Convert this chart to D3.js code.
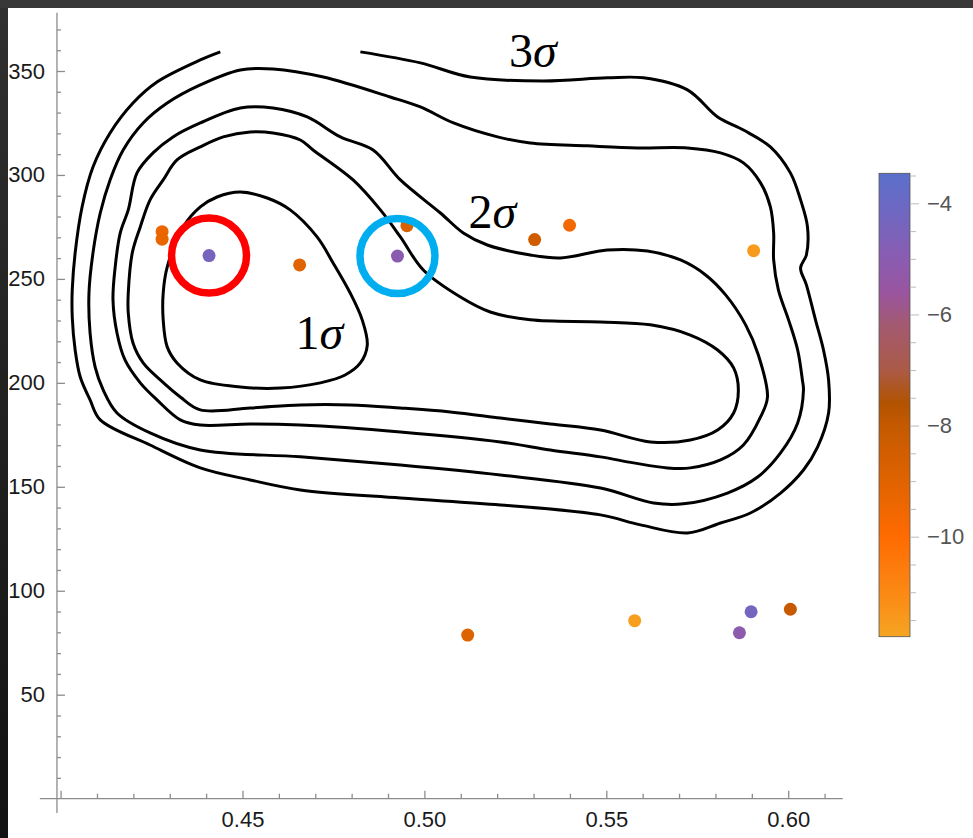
<!DOCTYPE html>
<html><head><meta charset="utf-8">
<script src="https://cdn.jsdelivr.net/npm/d3@7"></script>
<style>html,body{margin:0;padding:0;background:#fff;}svg{display:block;}</style>
</head><body>
<svg id="chart" width="973" height="838"></svg>
<script>
// ---------- data ----------
const xMajorTicks = [0.40, 0.45, 0.50, 0.55, 0.60];
const xTickLabels = ["", "0.45", "0.50", "0.55", "0.60"];
const xMinorTicks = [0.41,0.42,0.43,0.44,0.46,0.47,0.48,0.49,0.51,0.52,0.53,0.54,0.56,0.57,0.58,0.59,0.61];
const yMajorTicks = [50, 100, 150, 200, 250, 300, 350];
const yTickLabels = ["50", "100", "150", "200", "250", "300", "350"];
const yMinorTicks = [10,20,30,40,60,70,80,90,110,120,130,140,160,170,180,190,210,220,230,240,260,270,280,290,310,320,330,340,360,370];

const pointX = [0.4279, 0.4279, 0.4408, 0.4657, 0.4926, 0.4952, 0.5303, 0.5399, 0.5905, 0.5119, 0.5578, 0.5898, 0.5866, 0.6006];
const pointY = [272.7, 269.1, 261.2, 256.7, 261.0, 275.6, 268.9, 275.8, 263.6, 78.7, 85.6, 89.9, 79.8, 91.1];
const pointValue = [-9.4, -9.3, -4.4, -9.0, -5.0, -8.8, -8.4, -9.6, -11.5, -8.9, -11.6, -4.3, -5.1, -8.1];

const highlightX = [0.4408, 0.4926];
const highlightY = [261.2, 261.0];
const highlightColor = ["#ff0000", "#00aeef"];

const colorStops = [-11.8, -11.2, -10.5, -10.0, -9.0, -8.0, -7.6, -7.0, -6.2, -5.6, -5.0, -4.0, -3.46];
const colorRange = ["#f5a523", "#fa8f17", "#fd7a0c", "#ff6b00", "#e06300", "#c45900", "#b25300", "#ab5a47", "#a35a70", "#9955a0", "#8a5cb0", "#6a69c4", "#5a70cb"];
const cbMajorTicks = [-4, -6, -8, -10];
const cbTickLabels = ["\u22124", "\u22126", "\u22128", "\u221210"];
const cbMinorTicks = [-3.5,-4.5,-5,-5.5,-6.5,-7,-7.5,-8.5,-9,-9.5,-10.5,-11,-11.5];

const contour1 = [[0.4494,291.8],[0.4568,288.9],[0.4631,283.2],[0.4705,270.2],[0.4749,257.7],[0.4796,243.2],[0.4829,230.3],[0.4843,218.2],[0.4824,209.6],[0.4782,203.8],[0.4714,200.0],[0.4604,197.5],[0.4494,198.0],[0.4384,201.4],[0.4320,209.6],[0.4293,217.3],[0.4282,230.3],[0.4282,243.2],[0.4293,255.7],[0.4337,275.0],[0.4384,284.6],[0.4430,289.4]];
const contour2 = [[0.4384,313.5],[0.4447,318.3],[0.4521,320.7],[0.4584,320.2],[0.4659,316.8],[0.4694,312.0],[0.4804,297.6],[0.4879,283.2],[0.4934,270.2],[0.4997,254.3],[0.5099,241.3],[0.5181,234.1],[0.5291,230.3],[0.5484,229.3],[0.5621,227.9],[0.5731,223.0],[0.5806,215.8],[0.5850,207.2],[0.5863,196.6],[0.5850,185.5],[0.5806,177.3],[0.5731,172.5],[0.5621,171.6],[0.5484,177.3],[0.5346,180.2],[0.5209,183.1],[0.5071,186.0],[0.4934,187.9],[0.4796,189.4],[0.4659,189.4],[0.4521,187.9],[0.4384,187.0],[0.4329,193.2],[0.4274,201.4],[0.4227,209.6],[0.4199,219.2],[0.4186,233.6],[0.4186,243.2],[0.4197,262.5],[0.4219,275.0],[0.4246,288.0],[0.4282,297.6],[0.4320,307.2]];
const contour3 = [[0.4384,325.0],[0.4494,332.2],[0.4584,332.2],[0.4678,327.9],[0.4769,318.3],[0.4859,312.0],[0.4934,297.6],[0.5044,281.7],[0.5107,272.1],[0.5173,266.3],[0.5291,261.5],[0.5374,260.1],[0.5503,263.9],[0.5613,263.4],[0.5704,259.1],[0.5773,251.9],[0.5828,242.3],[0.5883,227.9],[0.5918,213.4],[0.5943,193.2],[0.5924,183.6],[0.5877,170.1],[0.5814,162.9],[0.5731,159.1],[0.5668,159.1],[0.5575,161.5],[0.5484,164.4],[0.5346,167.7],[0.5209,171.6],[0.4934,176.4],[0.4659,179.7],[0.4521,180.2],[0.4384,179.7],[0.4329,182.2],[0.4265,191.8],[0.4219,200.0],[0.4177,211.0],[0.4155,224.0],[0.4144,239.9],[0.4150,255.7],[0.4164,272.1],[0.4186,283.2],[0.4210,301.0],[0.4254,310.6],[0.4309,318.3]];
const contour4 = [[0.4384,343.3],[0.4494,350.5],[0.4584,351.0],[0.4722,347.1],[0.4906,337.5],[0.4989,332.7],[0.5080,325.0],[0.5201,318.3],[0.5291,315.4],[0.5448,314.0],[0.5586,313.0],[0.5723,313.0],[0.5814,310.6],[0.5877,305.8],[0.5924,296.2],[0.5951,284.6],[0.5960,272.1],[0.5960,259.1],[0.5973,244.7],[0.6001,230.3],[0.6026,215.8],[0.6039,201.4],[0.6042,196.6],[0.6026,180.7],[0.5979,166.3],[0.5916,154.7],[0.5833,147.0],[0.5712,141.8],[0.5630,142.2],[0.5484,149.4],[0.5209,155.7],[0.4934,160.5],[0.4659,164.4],[0.4384,167.7],[0.4246,175.9],[0.4155,185.5],[0.4117,196.6],[0.4095,207.6],[0.4081,224.0],[0.4078,243.2],[0.4089,262.5],[0.4109,281.7],[0.4136,297.6],[0.4172,312.0],[0.4227,325.0],[0.4293,334.6]];
const contour5 = [[0.4824,359.2],[0.4989,353.9],[0.5126,347.1],[0.5327,345.2],[0.5503,346.7],[0.5602,346.7],[0.5723,340.9],[0.5806,327.9],[0.5877,321.6],[0.5951,313.5],[0.6006,301.0],[0.6034,288.0],[0.6053,275.0],[0.6050,261.5],[0.6034,255.3],[0.6050,247.1],[0.6075,230.3],[0.6097,215.8],[0.6111,201.4],[0.6111,185.5],[0.6081,169.2],[0.6042,158.1],[0.5979,147.0],[0.5896,137.4],[0.5814,132.6],[0.5723,127.8],[0.5594,131.7],[0.5484,136.5],[0.5209,141.3],[0.4934,144.6],[0.4659,148.5],[0.4521,153.3],[0.4384,159.1],[0.4246,170.1],[0.4109,182.2],[0.4081,191.8],[0.4054,202.8],[0.4040,215.8],[0.4032,231.7],[0.4032,244.7],[0.4040,262.5],[0.4059,284.6],[0.4089,303.8],[0.4136,320.2],[0.4199,334.6],[0.4265,344.7],[0.4384,355.3],[0.4439,359.2]];

const sigmaLabels = ["1", "2", "3"];
const sigmaX = [0.4711, 0.5187, 0.5298];
const sigmaY = [216.3, 274.5, 351.9];

// ---------- layout ----------
const svg = d3.select("#chart");
const x = d3.scaleLinear().domain([0.40, 0.60]).range([60.6, 788.2]);
const y = d3.scaleLinear().domain([50, 350]).range([694.7, 71.0]);
const yAxisAtX = 0.399, xAxisAtY = 0;
const axisColor = "#8c8c8c";
const tickFont = "'Liberation Sans', Arial, Helvetica, sans-serif";

// frame
const defs = svg.append("defs");
const fg = defs.append("linearGradient").attr("id","frameGrad").attr("x1",0).attr("y1",0).attr("x2",0).attr("y2",1);
fg.append("stop").attr("offset","0%").attr("stop-color","#303030");
fg.append("stop").attr("offset","100%").attr("stop-color","#121212");
svg.append("rect").attr("x",0).attr("y",0).attr("width",973).attr("height",838).attr("fill","#fff");
svg.append("rect").attr("x",0).attr("y",0).attr("width",8).attr("height",838).attr("fill","url(#frameGrad)");
svg.append("rect").attr("x",0).attr("y",0).attr("width",973).attr("height",8).attr("fill","#383838");

// axes
const gx = svg.append("g").attr("transform", `translate(0,${y(xAxisAtY)})`);
gx.append("g").call(d3.axisBottom(x).tickValues(xMinorTicks).tickSize(-5).tickFormat(""));
gx.append("g").call(d3.axisBottom(x).tickValues(xMajorTicks).tickSize(-8).tickPadding(13)
  .tickFormat((d,i) => xTickLabels[i]));
gx.selectAll(".domain").remove();
gx.append("line").attr("x1", x(0.3943)).attr("x2", x(0.6150)).attr("y1",0).attr("y2",0);

const gy = svg.append("g").attr("transform", `translate(${x(yAxisAtX)},0)`);
gy.append("g").call(d3.axisLeft(y).tickValues(yMinorTicks).tickSize(-4).tickFormat(""));
gy.append("g").call(d3.axisLeft(y).tickValues(yMajorTicks).tickSize(-8).tickPadding(12)
  .tickFormat((d,i) => yTickLabels[i]));
gy.selectAll(".domain").remove();
gy.append("line").attr("x1",0).attr("x2",0).attr("y1", y(-6.9)).attr("y2", y(378));

svg.selectAll(".tick line").attr("stroke", axisColor).attr("stroke-width", 1.2);
svg.selectAll("g > line").attr("stroke", axisColor).attr("stroke-width", 1.3);
svg.selectAll(".tick text").attr("fill", "#1a1a1a").style("font-family", tickFont).style("font-size", "22px");

// contours
const lineClosed = d3.line().x(d => x(d[0])).y(d => y(d[1])).curve(d3.curveCatmullRomClosed.alpha(0.5));
const lineOpen = d3.line().x(d => x(d[0])).y(d => y(d[1])).curve(d3.curveCatmullRom.alpha(0.5));
const gc = svg.append("g").attr("fill","none").attr("stroke","#000").attr("stroke-width",3).attr("stroke-linejoin","round");
[contour1, contour2, contour3, contour4].forEach(c => gc.append("path").attr("d", lineClosed(c)));
gc.append("path").attr("d", lineOpen(contour5));

// color scale
const color = d3.scaleLinear().domain(colorStops).range(colorRange).interpolate(d3.interpolateRgb);

// points
svg.append("g").selectAll("circle").data(pointX).join("circle")
  .attr("cx", (d,i) => x(pointX[i])).attr("cy", (d,i) => y(pointY[i]))
  .attr("r", 6.5).attr("fill", (d,i) => color(pointValue[i]));

// highlight rings
svg.append("g").selectAll("circle").data(highlightX).join("circle")
  .attr("cx", (d,i) => x(highlightX[i])).attr("cy", (d,i) => y(highlightY[i]))
  .attr("r", 37.5).attr("fill","none").attr("stroke",(d,i) => highlightColor[i]).attr("stroke-width", 7.5);

// sigma labels
const gl = svg.append("g").style("font-family","'Liberation Serif','Times New Roman',serif").style("font-size","48px").attr("fill","#000");
sigmaLabels.forEach((s,i) => {
  const t = gl.append("text").attr("x", x(sigmaX[i])).attr("y", y(sigmaY[i])).attr("text-anchor","middle");
  t.append("tspan").text(s);
  t.append("tspan").style("font-style","italic").text("\u03c3");
});

// colorbar
const cb = d3.scaleLinear().domain([-11.8, -3.46]).range([636.7, 173.3]);
const cbX = 879, cbW = 31;
const cg = defs.append("linearGradient").attr("id","cbGrad").attr("x1",0).attr("y1",1).attr("x2",0).attr("y2",0);
colorStops.forEach((v,i) => cg.append("stop")
  .attr("offset", ((v - colorStops[0]) / (colorStops[colorStops.length-1] - colorStops[0]) * 100) + "%")
  .attr("stop-color", colorRange[i]));
svg.append("rect").attr("x", cbX).attr("y", cb(-3.46)).attr("width", cbW).attr("height", cb(-11.8) - cb(-3.46))
  .attr("fill","url(#cbGrad)").attr("stroke","#555").attr("stroke-width",0.8);
const gcb = svg.append("g").attr("transform", `translate(${cbX + cbW},0)`);
gcb.append("g").call(d3.axisRight(cb).tickValues(cbMinorTicks).tickSize(6).tickFormat(""));
gcb.append("g").call(d3.axisRight(cb).tickValues(cbMajorTicks).tickSize(9).tickPadding(8).tickFormat((d,i) => cbTickLabels[i]));
gcb.selectAll(".domain").remove();
gcb.selectAll(".tick line").attr("stroke","#bbb").attr("stroke-width",1);
gcb.selectAll(".tick text").attr("fill","#555").style("font-family", tickFont).style("font-size","22px");
</script>
</body></html>
